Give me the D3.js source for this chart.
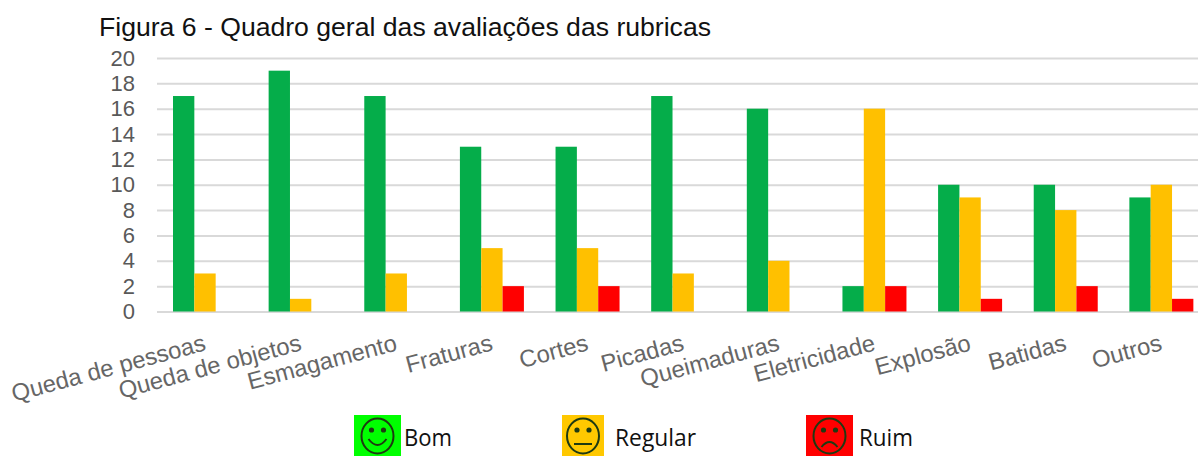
<!DOCTYPE html>
<html>
<head>
<meta charset="utf-8">
<script src="https://cdn.jsdelivr.net/npm/d3@7"></script>
<style>
  html, body { margin: 0; padding: 0; background: #fff; overflow: hidden; }
  svg { display: block; }
</style>
</head>
<body>
<svg id="chart" width="1198" height="456"></svg>
<script>
const categories = ['Queda de pessoas', 'Queda de objetos', 'Esmagamento', 'Fraturas', 'Cortes', 'Picadas', 'Queimaduras', 'Eletricidade', 'Explosão', 'Batidas', 'Outros'];
const seriesNames = ['Bom', 'Regular', 'Ruim'];
const bom = [17, 19, 17, 13, 13, 17, 16, 2, 10, 10, 9];
const regular = [3, 1, 3, 5, 5, 3, 4, 16, 9, 8, 10];
const ruim = [0, 0, 0, 2, 2, 0, 0, 2, 1, 2, 1];
const yTicks = d3.range(0, 21, 2);

const barColors = ['#05ad4a', '#ffc000', '#ff0000'];
const seriesValues = [bom, regular, ruim];

const svg = d3.select('#chart');
const arial = '"Liberation Sans", Arial, sans-serif';
const calibri = '"Open Sans", sans-serif';

svg.append('text')
  .attr('x', 99).attr('y', 36)
  .attr('font-family', arial).attr('font-size', 26.6).attr('fill', '#111')
  .text('Figura 6 - Quadro geral das avaliações das rubricas');

const x = d3.scaleBand().domain(categories).range([157, 1209]);
const inner = d3.scaleBand().domain(seriesNames).range([0, 64]);
const y = d3.scaleLinear().domain([0, 20]).range([311.5, 58]);

// gridlines + y labels
const yAxis = svg.append('g')
  .attr('transform', 'translate(157,0)')
  .call(d3.axisLeft(y).tickValues(yTicks).tickSize(-1052).tickPadding(22));
yAxis.select('.domain').remove();
yAxis.selectAll('line').attr('stroke', '#d9d9d9').attr('stroke-width', 2);
yAxis.selectAll('text')
  .attr('font-family', arial).attr('font-size', 22).attr('fill', '#595959');

const groups = svg.append('g').selectAll('g')
  .data(categories)
  .join('g')
  .attr('transform', d => `translate(${x(d) + 16},0)`);

groups.selectAll('rect')
  .data((d, i) => seriesNames.map((s, j) => ({ s, j, v: seriesValues[j][i] })))
  .join('rect')
  .attr('x', d => inner(d.s))
  .attr('width', inner.bandwidth())
  .attr('y', d => y(d.v))
  .attr('height', d => y(0) - y(d.v))
  .attr('fill', d => barColors[d.j]);

// rotated category labels, right end sits under the band
svg.append('g').selectAll('text')
  .data(categories)
  .join('text')
  .attr('transform', d => `translate(${x(d) + 50},350) rotate(-15)`)
  .attr('text-anchor', 'end')
  .attr('font-family', arial).attr('font-size', 23.8).attr('fill', '#666')
  .text(d => d);

// legend with the little faces
const legendX = [354, 562, 806];
const legendW = [47, 42, 47];
const legendFill = ['#00ff00', '#ffc800', '#ff0000'];
const legendTextX = [404, 615, 859];

const legend = svg.append('g').selectAll('g')
  .data(seriesNames)
  .join('g')
  .attr('transform', (d, i) => `translate(${legendX[i]},415)`);

legend.append('rect')
  .attr('width', (d, i) => legendW[i]).attr('height', 41)
  .attr('fill', (d, i) => legendFill[i]);

legend.each(function (d, i) {
  const g = d3.select(this);
  const cx = legendW[i] / 2;
  const face = g.append('g').attr('fill', 'none').attr('stroke', '#1e3a12').attr('stroke-width', 2);
  face.append('ellipse').attr('cx', cx).attr('cy', 21).attr('rx', 16).attr('ry', 17.5);
  face.append('circle').attr('cx', cx - 6).attr('cy', 15).attr('r', 1.6).attr('fill', '#1e3a12');
  face.append('circle').attr('cx', cx + 6).attr('cy', 15).attr('r', 1.6).attr('fill', '#1e3a12');
  const mouth = [`M${cx - 9},24 Q${cx},36 ${cx + 9},24`, `M${cx - 9},29 H${cx + 9}`, `M${cx - 8},32 Q${cx},22 ${cx + 8},32`][i];
  face.append('path').attr('d', mouth);
});

svg.append('g').selectAll('text')
  .data(seriesNames)
  .join('text')
  .attr('x', (d, i) => legendTextX[i]).attr('y', 446)
  .attr('font-family', calibri).attr('font-size', 23).attr('fill', '#111')
  .attr('textLength', (d, i) => [48, 81, 54][i])
  .attr('lengthAdjust', 'spacingAndGlyphs')
  .text(d => d);
</script>
</body>
</html>
